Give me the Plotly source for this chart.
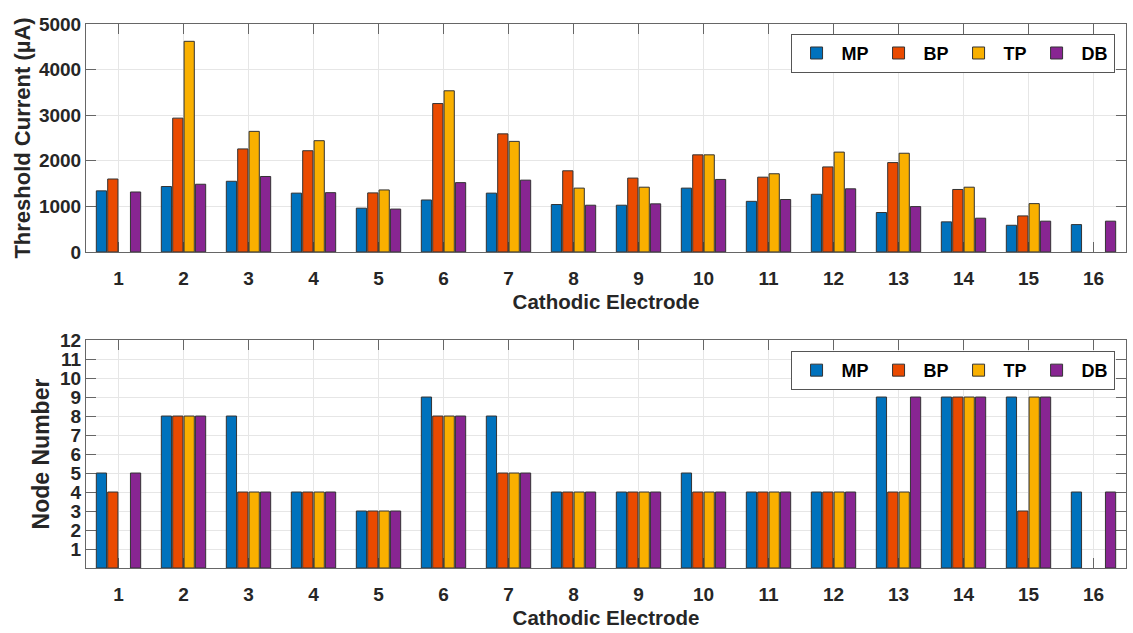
import plotly.graph_objects as go
from plotly.subplots import make_subplots

electrodes = list(range(1, 17))
series_names = ["MP", "BP", "TP", "DB"]
colors = ["#0072BD", "#EA4A00", "#F9B000", "#882592"]

# Threshold current (µA)
thr_MP = [1340, 1435, 1550, 1290, 960, 1140, 1290, 1040, 1025, 1400, 1110, 1265, 865, 660, 585, 600]
thr_BP = [1600, 2935, 2260, 2220, 1295, 3255, 2590, 1780, 1620, 2130, 1640, 1865, 1960, 1370, 790, None]
thr_TP = [None, 4620, 2645, 2440, 1360, 3535, 2425, 1400, 1420, 2130, 1715, 2190, 2165, 1420, 1060, None]
thr_DB = [1315, 1485, 1655, 1300, 940, 1520, 1575, 1025, 1055, 1590, 1150, 1385, 995, 740, 675, 675]

# Node number
node_MP = [5, 8, 8, 4, 3, 9, 8, 4, 4, 5, 4, 4, 9, 9, 9, 4]
node_BP = [4, 8, 4, 4, 3, 8, 5, 4, 4, 4, 4, 4, 4, 9, 3, None]
node_TP = [None, 8, 4, 4, 3, 8, 5, 4, 4, 4, 4, 4, 4, 9, 9, None]
node_DB = [5, 8, 4, 4, 3, 8, 5, 4, 4, 4, 4, 4, 9, 9, 9, 4]

thr = [thr_MP, thr_BP, thr_TP, thr_DB]
node = [node_MP, node_BP, node_TP, node_DB]

FONT = "Liberation Sans, Arial, sans-serif"
TXT = "#262626"

fig = make_subplots(rows=2, cols=1, vertical_spacing=0.0)

for name, col, vals in zip(series_names, colors, thr):
    fig.add_trace(go.Bar(x=electrodes, y=vals, name=name, marker_color=col,
                         marker_line=dict(color="#333333", width=1),
                         legend="legend"), row=1, col=1)
for name, col, vals in zip(series_names, colors, node):
    fig.add_trace(go.Bar(x=electrodes, y=vals, name=name, marker_color=col,
                         marker_line=dict(color="#333333", width=1),
                         legend="legend2"), row=2, col=1)

axis_common = dict(
    showline=True, linecolor="#666666", linewidth=1, mirror="ticks",
    ticks="inside", ticklen=10, tickcolor="#666666", tickwidth=1,
    showgrid=True, gridcolor="#E6E6E6", gridwidth=1, zeroline=False,
    tickfont=dict(family=FONT, size=19, color=TXT, weight="bold"),
    layer="below traces",
)

for r in (1, 2):
    fig.update_xaxes(range=[0.5, 16.5], tickvals=electrodes, ticklabelstandoff=9,
                     title=dict(text="<b>Cathodic Electrode</b>", font=dict(family=FONT, size=20.5, color=TXT), standoff=6),
                     row=r, col=1, **axis_common)

fig.update_yaxes(range=[0, 5000], tickvals=[0, 1000, 2000, 3000, 4000, 5000],
                 title=dict(text="<b>Threshold Current (µA)</b>", font=dict(family=FONT, size=22, color=TXT), standoff=2),
                 row=1, col=1, **axis_common)
fig.update_yaxes(range=[0, 12], tickvals=list(range(1, 13)),
                 title=dict(text="<b>Node Number</b>", font=dict(family=FONT, size=23, color=TXT), standoff=4),
                 row=2, col=1, **axis_common)

fig.update_layout(
    width=1133, height=633,
    margin=dict(l=86, r=7, t=24, b=65),
    paper_bgcolor="white", plot_bgcolor="white",
    barmode="group", bargap=0.3, bargroupgap=0.1,
    font=dict(family=FONT, color=TXT),
    xaxis=dict(domain=[0, 1], anchor="y"),
    yaxis=dict(domain=[0.581, 1.0]),
    xaxis2=dict(domain=[0, 1], anchor="y2"),
    yaxis2=dict(domain=[0.0, 0.419]),
    legend=dict(orientation="h", x=0.989, xanchor="right", y=0.982, yanchor="top",
                bordercolor="#555555", borderwidth=1, bgcolor="white",
                font=dict(family=FONT, size=18, color="black", weight="bold"),
                itemwidth=40, traceorder="normal"),
    legend2=dict(orientation="h", x=0.989, xanchor="right", y=0.399, yanchor="top",
                 bordercolor="#555555", borderwidth=1, bgcolor="white",
                 font=dict(family=FONT, size=18, color="black", weight="bold"),
                 itemwidth=40, traceorder="normal"),
)

fig.write_html("out.html")
